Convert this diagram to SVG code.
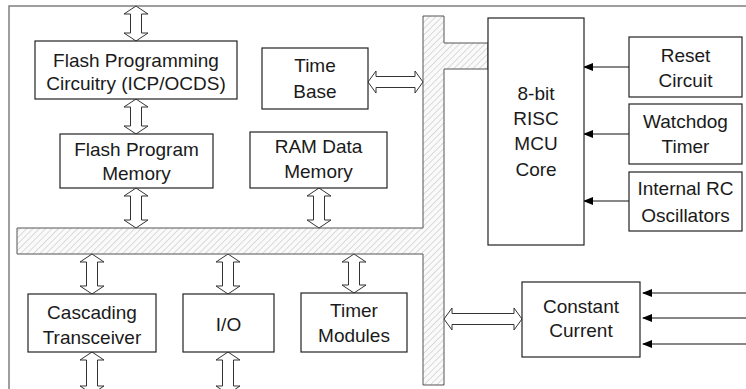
<svg xmlns="http://www.w3.org/2000/svg" width="746" height="389" viewBox="0 0 746 389">
<style>
.box{fill:#fff;stroke:#222;stroke-width:1.2}
.t{font-family:"Liberation Sans",Arial,sans-serif;font-size:19px;fill:#1a1a1a;text-anchor:middle}
.dbl{fill:#fff;stroke:#333;stroke-width:1}
.ln{stroke:#111;stroke-width:1.2;fill:none}
</style>
<defs>
<pattern id="hatch" patternUnits="userSpaceOnUse" width="4.5" height="4.5" patternTransform="rotate(45)">
<rect width="4.5" height="4.5" fill="#fafafa"/>
<line x1="0" y1="0" x2="0" y2="4.5" stroke="#b4b4b4" stroke-width="0.9"/>
</pattern>
<marker id="ah" markerWidth="10" markerHeight="8" refX="9" refY="4" orient="auto" markerUnits="userSpaceOnUse">
<path d="M0,0 L10,4 L0,8 Z" fill="#000"/>
</marker>
</defs>
<rect x="9" y="6" width="800" height="420" fill="none" stroke="#7f7f7f" stroke-width="1.5"/>
<g id="bus">
<path d="M423,16 L444,16 L444,43 L488,43 L488,69 L444,69 L444,385 L423,385 L423,254 L17,254 L17,228 L423,228 Z" fill="url(#hatch)" stroke="#555" stroke-width="1"/>
</g>
<g id="connectors">
<path class="dbl" d="M136,6 L148,14 L141.5,14 L141.5,33 L148,33 L136,41 L124,33 L130.5,33 L130.5,14 L124,14 Z"/>
<path class="dbl" d="M136,99 L148,107 L141.5,107 L141.5,126 L148,126 L136,134 L124,126 L130.5,126 L130.5,107 L124,107 Z"/>
<path class="dbl" d="M136,188 L148,196 L141.5,196 L141.5,220 L148,220 L136,228 L124,220 L130.5,220 L130.5,196 L124,196 Z"/>
<path class="dbl" d="M319,188 L331,196 L324.5,196 L324.5,220 L331,220 L319,228 L307,220 L313.5,220 L313.5,196 L307,196 Z"/>
<path class="dbl" d="M92,254 L104,262 L97.5,262 L97.5,286 L104,286 L92,294 L80,286 L86.5,286 L86.5,262 L80,262 Z"/>
<path class="dbl" d="M228,254 L240,262 L233.5,262 L233.5,286 L240,286 L228,294 L216,286 L222.5,286 L222.5,262 L216,262 Z"/>
<path class="dbl" d="M354,254 L366,262 L359.5,262 L359.5,285 L366,285 L354,293 L342,285 L348.5,285 L348.5,262 L342,262 Z"/>
<path class="dbl" d="M92,352 L104,360 L97.5,360 L97.5,386 L104,386 L92,394 L80,386 L86.5,386 L86.5,360 L80,360 Z"/>
<path class="dbl" d="M228,352 L240,360 L233.5,360 L233.5,386 L240,386 L228,394 L216,386 L222.5,386 L222.5,360 L216,360 Z"/>
<path class="dbl" d="M368,82 L376,71 L376,76.5 L415,76.5 L415,71 L423,82 L415,93 L415,87.5 L376,87.5 L376,93 Z"/>
<path class="dbl" d="M444,319 L452,308 L452,313.5 L514,313.5 L514,308 L522,319 L514,330 L514,324.5 L452,324.5 L452,330 Z"/>
<line class="ln" x1="629" y1="67" x2="584" y2="67" marker-end="url(#ah)"/>
<line class="ln" x1="629" y1="134" x2="584" y2="134" marker-end="url(#ah)"/>
<line class="ln" x1="629" y1="201" x2="584" y2="201" marker-end="url(#ah)"/>
<line class="ln" x1="746" y1="293" x2="643" y2="293" marker-end="url(#ah)"/>
<line class="ln" x1="746" y1="318" x2="643" y2="318" marker-end="url(#ah)"/>
<line class="ln" x1="746" y1="344" x2="643" y2="344" marker-end="url(#ah)"/>
</g>
<g id="flash-prog-circuitry">
<rect class="box" x="35" y="41" width="202" height="58"/>
<text class="t" x="136" y="67">Flash Programming</text>
<text class="t" x="136" y="90">Circuitry (ICP/OCDS)</text>
</g>
<g id="time-base">
<rect class="box" x="262" y="48" width="106" height="61"/>
<text class="t" x="315" y="72">Time</text>
<text class="t" x="315" y="98">Base</text>
</g>
<g id="flash-program-memory">
<rect class="box" x="60" y="134" width="153" height="54"/>
<text class="t" x="136.5" y="156">Flash Program</text>
<text class="t" x="136.5" y="180">Memory</text>
</g>
<g id="ram-data-memory">
<rect class="box" x="250" y="132" width="137" height="56"/>
<text class="t" x="318.5" y="153">RAM Data</text>
<text class="t" x="318.5" y="178">Memory</text>
</g>
<g id="mcu-core">
<rect class="box" x="488" y="18" width="96" height="227"/>
<text class="t" x="536" y="100">8-bit</text>
<text class="t" x="536" y="125">RISC</text>
<text class="t" x="536" y="150">MCU</text>
<text class="t" x="536" y="176">Core</text>
</g>
<g id="reset-circuit">
<rect class="box" x="629" y="37" width="113" height="60"/>
<text class="t" x="685.5" y="62">Reset</text>
<text class="t" x="685.5" y="87">Circuit</text>
</g>
<g id="watchdog-timer">
<rect class="box" x="629" y="104" width="113" height="60"/>
<text class="t" x="685.5" y="128">Watchdog</text>
<text class="t" x="685.5" y="153">Timer</text>
</g>
<g id="internal-rc">
<rect class="box" x="629" y="172" width="113" height="59"/>
<text class="t" x="685.5" y="195">Internal RC</text>
<text class="t" x="685.5" y="222">Oscillators</text>
</g>
<g id="constant-current">
<rect class="box" x="522" y="282" width="118" height="75"/>
<text class="t" x="581" y="313">Constant</text>
<text class="t" x="581" y="337">Current</text>
</g>
<g id="cascading-transceiver">
<rect class="box" x="28" y="294" width="128" height="58"/>
<text class="t" x="92" y="319">Cascading</text>
<text class="t" x="92" y="344">Transceiver</text>
</g>
<g id="io">
<rect class="box" x="183" y="294" width="91" height="58"/>
<text class="t" x="228.5" y="331">I/O</text>
</g>
<g id="timer-modules">
<rect class="box" x="301" y="293" width="106" height="59"/>
<text class="t" x="354" y="317">Timer</text>
<text class="t" x="354" y="342">Modules</text>
</g>
</svg>
